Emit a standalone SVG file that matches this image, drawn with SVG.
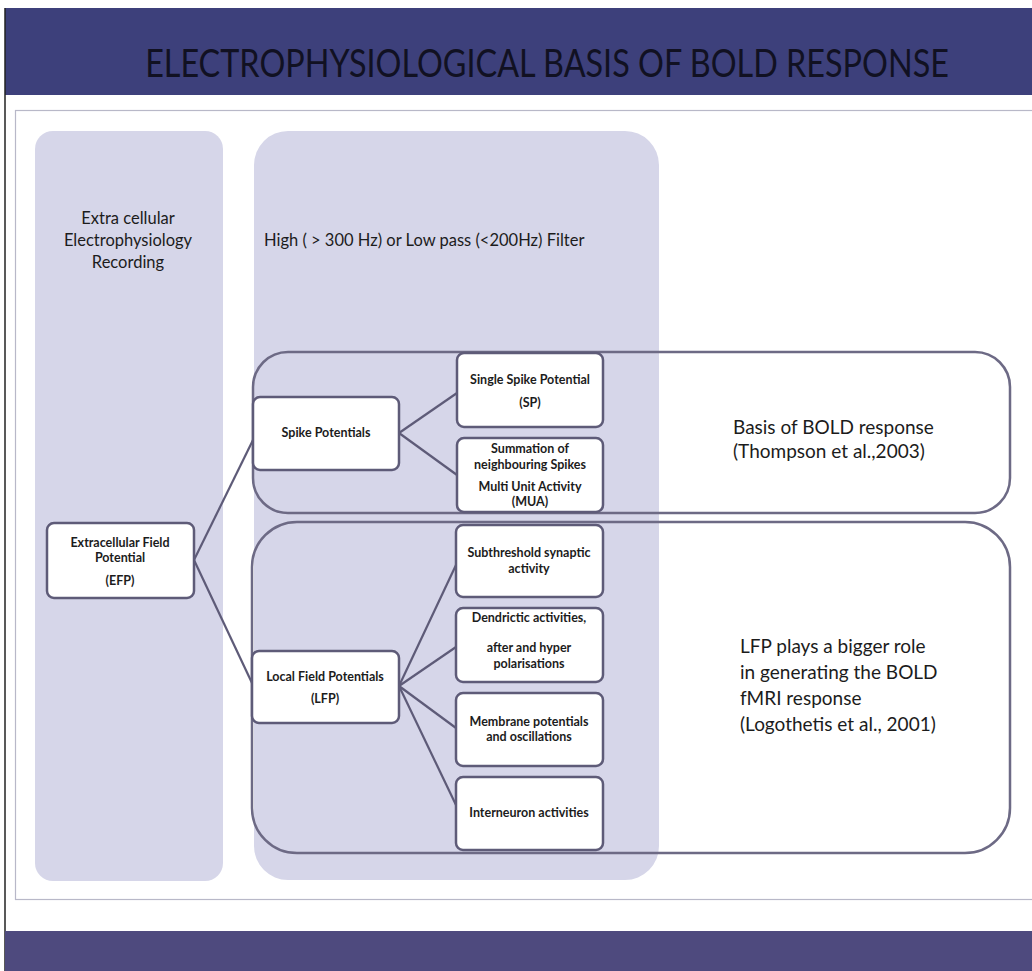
<svg xmlns="http://www.w3.org/2000/svg" width="1032" height="971" viewBox="0 0 1032 971">
<style>
.band{fill:#3d407b}
.col{fill:#d6d6e9}
.big{fill:none;stroke:#6d6a85;stroke-width:2.5}
.node{fill:#ffffff;stroke:#5e5b78;stroke-width:2.5}
.lbl{font-family:Lato,"Liberation Sans",sans-serif;font-size:19px;fill:#1c1c1c}
.cl{font-family:Lato,"Liberation Sans",sans-serif;font-size:16.5px;fill:#1c1c1c}
.nt{font-family:Lato,"Liberation Sans",sans-serif;font-size:12.5px;font-weight:bold;fill:#1c1c1c;text-anchor:middle}
.conn{stroke:#5e5b78;stroke-width:2.2;fill:none}
</style>
<rect width="1032" height="971" fill="#ffffff"/>
<g id="frame">
<rect class="band" x="5" y="8" width="1027" height="87"/>
<line x1="5" y1="8" x2="5" y2="971" stroke="#222" stroke-width="1.5"/>
<rect x="15.5" y="110.5" width="1030" height="789" fill="none" stroke="#b8b8c8" stroke-width="1.2"/>
<rect x="5" y="931" width="1027" height="40" fill="#4e4a7e"/>
<text transform="translate(547,77) scale(0.83,1)" x="0" y="0" font-family="Lato,'Liberation Sans',sans-serif" font-size="39" fill="#111122" text-anchor="middle">ELECTROPHYSIOLOGICAL BASIS OF BOLD RESPONSE</text>
</g>
<g id="col-recording">
<rect class="col" x="35" y="131" width="188" height="750" rx="18"/>
<text class="cl" text-anchor="middle"><tspan x="128" y="224">Extra cellular</tspan><tspan x="128" y="246">Electrophysiology</tspan><tspan x="128" y="268">Recording</tspan></text>
</g>
<g id="col-filter">
<rect class="col" x="254" y="131" width="405" height="749" rx="34"/>
<text class="cl" x="264" y="246">High ( &gt; 300 Hz) or Low pass (&lt;200Hz) Filter</text>
</g>
<g id="group-spike">
<rect class="big" x="253" y="352" width="757" height="161" rx="35"/>
<text class="lbl"><tspan x="733" y="434">Basis of BOLD response</tspan><tspan x="733" y="458">(Thompson et al.,2003)</tspan></text>
</g>
<g id="group-lfp">
<rect class="big" x="252" y="522" width="758" height="331" rx="45"/>
<text class="lbl"><tspan x="740" y="653">LFP plays a bigger role</tspan><tspan x="740" y="679">in generating the BOLD</tspan><tspan x="740" y="705">fMRI response</tspan><tspan x="740" y="731">(Logothetis et al., 2001)</tspan></text>
</g>
<g id="connectors">
<line class="conn" x1="194" y1="560" x2="253" y2="440"/>
<line class="conn" x1="194" y1="560" x2="252" y2="683"/>
<line class="conn" x1="399" y1="433" x2="457" y2="393"/>
<line class="conn" x1="399" y1="433" x2="457" y2="475"/>
<line class="conn" x1="399" y1="686" x2="456" y2="565"/>
<line class="conn" x1="399" y1="686" x2="456" y2="647"/>
<line class="conn" x1="399" y1="686" x2="456" y2="728"/>
<line class="conn" x1="399" y1="686" x2="456" y2="805"/>
</g>
<g id="node-efp">
<rect class="node" x="47" y="523" width="147" height="75" rx="7"/>
<text class="nt"><tspan x="120" y="547">Extracellular Field</tspan><tspan x="120" y="562">Potential</tspan><tspan x="120" y="585">(EFP)</tspan></text>
</g>
<g id="node-spike">
<rect class="node" x="253" y="397" width="146" height="73" rx="7"/>
<text class="nt" x="326" y="437">Spike Potentials</text>
</g>
<g id="node-lfp">
<rect class="node" x="252" y="651" width="147" height="72" rx="7"/>
<text class="nt"><tspan x="325" y="681">Local Field Potentials</tspan><tspan x="325" y="703">(LFP)</tspan></text>
</g>
<g id="node-sp">
<rect class="node" x="457" y="353" width="146" height="74" rx="7"/>
<text class="nt"><tspan x="530" y="384">Single Spike Potential</tspan><tspan x="530" y="407">(SP)</tspan></text>
</g>
<g id="node-mua">
<rect class="node" x="457" y="438" width="146" height="74" rx="7"/>
<text class="nt"><tspan x="530" y="453">Summation of</tspan><tspan x="530" y="469">neighbouring Spikes</tspan><tspan x="530" y="491">Multi Unit Activity</tspan><tspan x="530" y="506">(MUA)</tspan></text>
</g>
<g id="node-sub">
<rect class="node" x="456" y="525" width="147" height="72" rx="7"/>
<text class="nt"><tspan x="529" y="557">Subthreshold  synaptic</tspan><tspan x="529" y="573">activity</tspan></text>
</g>
<g id="node-dend">
<rect class="node" x="456" y="608" width="147" height="74" rx="7"/>
<text class="nt"><tspan x="529" y="622">Dendrictic activities,</tspan><tspan x="529" y="652">after and hyper</tspan><tspan x="529" y="668">polarisations</tspan></text>
</g>
<g id="node-mem">
<rect class="node" x="456" y="693" width="147" height="73" rx="7"/>
<text class="nt"><tspan x="529" y="726">Membrane potentials</tspan><tspan x="529" y="741">and oscillations</tspan></text>
</g>
<g id="node-inter">
<rect class="node" x="456" y="777" width="147" height="73" rx="7"/>
<text class="nt" x="529" y="817">Interneuron activities</text>
</g>
</svg>
